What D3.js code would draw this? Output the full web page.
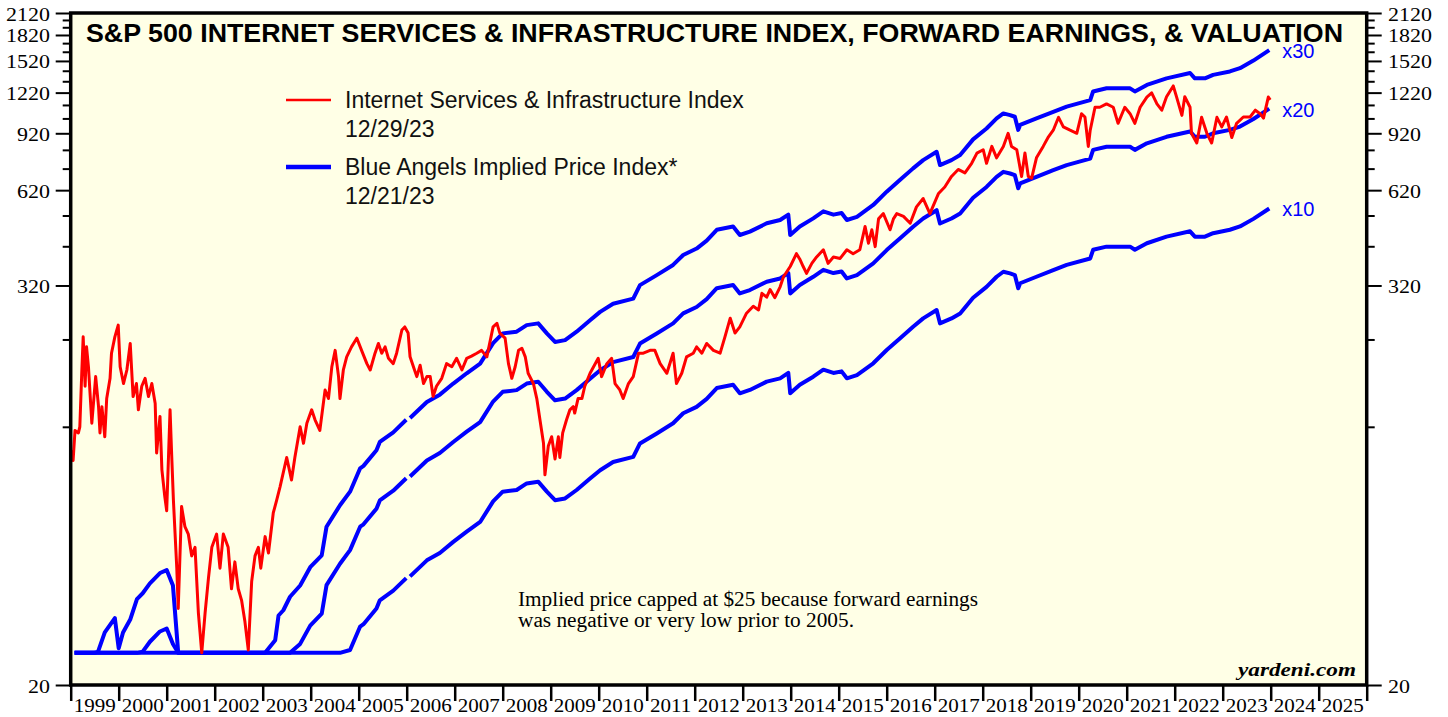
<!DOCTYPE html>
<html>
<head>
<meta charset="utf-8">
<script src="https://cdn.jsdelivr.net/npm/d3@7"></script>
<style>
  body { margin: 0; background: #fff; }
  svg { display: block; }
</style>
</head>
<body>
<script>
// ------------------------------------------------------------
// S&P 500 Internet Services & Infrastructure: index vs. implied prices
// (decimal years)
// ------------------------------------------------------------

// Price index, weekly-ish readings
var indexSeries = [
  [1999.02,102],[1999.05,95],[1999.09,117],[1999.16,115],[1999.19,120],[1999.23,174],[1999.26,224],
  [1999.30,159],[1999.33,209],[1999.37,182],[1999.44,123],[1999.52,170],[1999.58,138],[1999.61,115],
  [1999.65,138],[1999.71,112],[1999.75,146],[1999.82,168],[1999.85,200],[1999.92,224],[1999.99,243],
  [2000.03,182],[2000.10,162],[2000.17,178],[2000.24,214],[2000.27,178],[2000.30,148],[2000.37,162],
  [2000.41,135],[2000.48,159],[2000.55,168],[2000.62,148],[2000.69,162],[2000.76,141],[2000.79,100],
  [2000.86,129],[2000.90,89],[2000.96,74],[2001.00,67],[2001.07,135],[2001.10,102],[2001.14,72],
  [2001.21,45],[2001.24,34],[2001.31,69],[2001.38,60],[2001.45,57],[2001.52,49],[2001.59,52],
  [2001.66,33],[2001.73,25],[2001.80,33],[2001.87,42],[2001.94,52],[2002.04,57],[2002.11,45],
  [2002.18,57],[2002.28,52],[2002.35,39],[2002.42,47],[2002.49,39],[2002.56,36],[2002.63,31],
  [2002.70,25.5],[2002.77,41],[2002.84,49],[2002.91,52],[2002.96,45],[2003.05,56],[2003.12,50],
  [2003.22,66],[2003.29,72],[2003.36,79],[2003.50,97],[2003.60,83],[2003.67,97],[2003.78,120],
  [2003.85,107],[2003.92,123],[2004.02,135],[2004.09,126],[2004.19,117],[2004.30,155],[2004.37,146],
  [2004.44,182],[2004.51,204],[2004.58,170],[2004.61,146],[2004.68,178],[2004.75,195],[2004.85,209],
  [2004.96,222],[2005.06,204],[2005.17,186],[2005.24,178],[2005.34,200],[2005.41,214],[2005.48,200],
  [2005.55,209],[2005.62,193],[2005.72,186],[2005.79,200],[2005.90,235],[2005.96,240],[2006.03,230],
  [2006.07,195],[2006.14,182],[2006.21,170],[2006.28,184],[2006.35,162],[2006.42,170],[2006.49,170],
  [2006.55,148],[2006.62,159],[2006.73,168],[2006.83,186],[2006.94,182],[2007.04,193],[2007.15,178],
  [2007.25,193],[2007.35,196],[2007.46,200],[2007.56,204],[2007.67,195],[2007.80,240],[2007.88,246],
  [2007.94,230],[2008.05,222],[2008.12,186],[2008.19,168],[2008.26,182],[2008.33,204],[2008.40,207],
  [2008.47,195],[2008.53,174],[2008.64,162],[2008.71,146],[2008.78,125],[2008.85,107],[2008.88,86],
  [2008.95,105],[2009.02,112],[2009.09,96],[2009.16,112],[2009.19,97],[2009.25,115],[2009.33,126],
  [2009.40,135],[2009.47,138],[2009.50,132],[2009.57,146],[2009.65,146],[2009.71,159],[2009.82,174],
  [2009.99,193],[2010.06,170],[2010.17,186],[2010.27,193],[2010.34,162],[2010.44,155],[2010.51,146],
  [2010.62,162],[2010.72,170],[2010.83,200],[2010.93,200],[2011.07,204],[2011.17,204],[2011.28,186],
  [2011.42,174],[2011.55,200],[2011.62,162],[2011.73,174],[2011.83,195],[2011.97,200],[2012.04,209],
  [2012.15,200],[2012.25,214],[2012.39,204],[2012.53,200],[2012.63,224],[2012.74,255],[2012.84,230],
  [2012.94,240],[2013.08,264],[2013.22,277],[2013.33,270],[2013.40,303],[2013.50,295],[2013.57,311],
  [2013.67,294],[2013.78,317],[2013.85,340],[2013.99,365],[2014.12,399],[2014.19,384],[2014.26,365],
  [2014.33,348],[2014.44,373],[2014.54,390],[2014.68,410],[2014.78,373],[2014.89,390],[2015.03,386],
  [2015.17,410],[2015.30,399],[2015.44,410],[2015.55,482],[2015.62,429],[2015.69,471],[2015.76,419],
  [2015.83,508],[2015.93,527],[2016.07,471],[2016.14,508],[2016.21,527],[2016.35,517],[2016.49,493],
  [2016.62,552],[2016.76,585],[2016.90,527],[2017.08,606],[2017.21,634],[2017.35,682],[2017.49,716],
  [2017.63,699],[2017.77,747],[2017.88,802],[2018.01,821],[2018.08,747],[2018.19,840],[2018.29,776],
  [2018.43,840],[2018.53,920],[2018.60,840],[2018.71,821],[2018.81,682],[2018.88,802],[2018.95,682],
  [2019.02,674],[2019.12,776],[2019.26,840],[2019.37,898],[2019.47,940],[2019.58,1028],[2019.68,962],
  [2019.82,940],[2019.96,920],[2020.06,1054],[2020.13,1030],[2020.20,840],[2020.24,940],[2020.34,1102],
  [2020.44,1102],[2020.58,1128],[2020.72,1102],[2020.82,986],[2020.96,1102],[2021.07,1054],[2021.17,986],
  [2021.28,1102],[2021.42,1183],[2021.52,1218],[2021.63,1128],[2021.73,1080],[2021.83,1186],[2021.97,1278],
  [2022.04,1183],[2022.15,1042],[2022.21,1186],[2022.32,1102],[2022.35,920],[2022.46,860],[2022.56,1028],
  [2022.67,920],[2022.77,860],[2022.88,1028],[2022.98,962],[2023.08,1030],[2023.19,893],[2023.29,986],
  [2023.43,1030],[2023.57,1030],[2023.68,1080],[2023.78,1054],[2023.85,1022],[2023.95,1183],[2023.99,1160]
];

// Forward earnings per share (null = gap in the source series)
var fwdEarnings = [
  [1999.08,0.60],[1999.50,0.80],[1999.57,0.84],[1999.71,0.96],[1999.92,1.06],[2000.00,0.86],
  [2000.09,0.96],[2000.24,1.05],[2000.38,1.21],[2000.50,1.26],[2000.65,1.35],[2000.86,1.45],
  [2001.00,1.48],[2001.13,1.33],[2001.24,0.80],[2002.00,0.75],[2003.05,0.83],[2003.26,0.91],
  [2003.33,1.08],[2003.43,1.12],[2003.57,1.23],[2003.78,1.33],[2003.99,1.51],[2004.23,1.64],
  [2004.33,2.00],[2004.61,2.32],[2004.82,2.55],[2005.03,3.00],[2005.10,3.05],[2005.37,3.40],
  [2005.44,3.60],[2005.72,3.85],[2005.99,4.20],[2006.03,null],[2006.07,4.25],[2006.42,4.75],
  [2006.69,5.00],[2006.97,5.40],[2007.25,5.80],[2007.53,6.20],[2007.80,7.15],[2008.00,7.65],
  [2008.29,7.74],[2008.50,8.10],[2008.74,8.20],[2008.92,7.65],[2009.09,7.21],[2009.30,7.30],
  [2009.54,7.74],[2009.82,8.38],[2010.03,8.88],[2010.30,9.40],[2010.72,9.74],[2010.86,10.69],
  [2011.21,11.46],[2011.55,12.30],[2011.76,13.18],[2012.04,13.78],[2012.25,14.56],[2012.46,15.70],
  [2012.80,16.06],[2012.94,15.14],[2013.15,15.50],[2013.50,16.42],[2013.78,16.80],[2013.95,17.44],
  [2013.99,15.14],[2014.19,16.06],[2014.47,16.99],[2014.68,17.84],[2014.89,17.44],[2015.06,17.63],
  [2015.17,16.80],[2015.38,17.18],[2015.72,18.65],[2016.00,20.45],[2016.28,22.20],[2016.55,24.04],
  [2016.76,25.46],[2017.04,26.98],[2017.11,24.60],[2017.35,25.46],[2017.53,26.36],[2017.80,29.40],
  [2018.08,31.70],[2018.29,34.00],[2018.43,35.20],[2018.57,34.80],[2018.67,34.40],[2018.74,31.40],
  [2018.78,32.50],[2019.12,34.00],[2019.47,35.60],[2019.75,36.90],[2020.24,38.60],[2020.30,41.00],
  [2020.58,41.90],[2021.07,41.90],[2021.17,41.00],[2021.42,42.90],[2021.83,44.90],[2022.32,46.60],
  [2022.42,44.90],[2022.63,44.90],[2022.80,46.00],[2023.15,47.10],[2023.36,48.20],[2023.64,50.80],
  [2023.97,54.60]
];

var multiples = [10, 20, 30];
var priceCap = 25;   // implied price floor before 2005

var yMajorTicks = [20, 320, 620, 920, 1220, 1520, 1820, 2120];
var yMinorTicks = [120, 220, 420, 520, 720, 820, 1020, 1120, 1320, 1420, 1620, 1720, 1920, 2020];
var yearLabels = [1999,2000,2001,2002,2003,2004,2005,2006,2007,2008,2009,2010,2011,2012,2013,
                  2014,2015,2016,2017,2018,2019,2020,2021,2022,2023,2024,2025];

var titleText = "S&P 500 INTERNET SERVICES & INFRASTRUCTURE INDEX, FORWARD EARNINGS, & VALUATION";
var legendItems = [
  { name: "Internet Services & Infrastructure Index", date: "12/29/23", color: "#ff0000", width: 2.5 },
  { name: "Blue Angels Implied Price Index*", date: "12/21/23", color: "#0000ff", width: 4.5 }
];
var noteLines = ["Implied price capped at $25 because forward earnings",
                 "was negative or very low prior to 2005."];

// ------------------------------------------------------------
var W = 1448, H = 717;
var xLeft = 70.7, xRight = 1366.7, yTop = 13, yBottom = 685;
var serif = "'Liberation Serif','Times New Roman',serif";
var sans = "'Liberation Sans',Arial,sans-serif";

var svg = d3.select("body").append("svg")
    .attr("width", W)
    .attr("height", H);

var x = d3.scaleLinear().domain([1999, 2026]).range([xLeft, xRight]);
var y = d3.scaleLog().domain([20, 2120]).range([yBottom, yTop]);

// plot background
svg.append("rect")
    .attr("x", xLeft).attr("y", yTop)
    .attr("width", xRight - xLeft).attr("height", yBottom - yTop)
    .attr("fill", "#ffffe6");

// y axis ticks, both sides
function tickAxis(axis, size, vals) {
    return axis.tickValues(vals).tickSize(size).tickFormat("");
}
[[d3.axisLeft, xLeft], [d3.axisRight, xRight]].forEach(function(s) {
    var gMaj = svg.append("g").attr("transform", "translate(" + s[1] + ",0)")
        .call(tickAxis(s[0](y), 15, yMajorTicks));
    var gMin = svg.append("g").attr("transform", "translate(" + s[1] + ",0)")
        .call(tickAxis(s[0](y), 8, yMinorTicks));
    [gMaj, gMin].forEach(function(g) {
        g.select(".domain").remove();
        g.selectAll("line").attr("stroke", "#000").attr("stroke-width", 2);
    });
});

// y labels (serif, a bit stretched like the source)
yMajorTicks.forEach(function(v) {
    svg.append("text")
        .attr("transform", "translate(50," + (y(v) + 7.5) + ") scale(1.22,1)")
        .attr("text-anchor", "end")
        .attr("font-family", serif).attr("font-size", 18)
        .text(v);
    svg.append("text")
        .attr("transform", "translate(1388," + (y(v) + 7.5) + ") scale(1.22,1)")
        .attr("text-anchor", "start")
        .attr("font-family", serif).attr("font-size", 18)
        .text(v);
});

// x axis: ticks at year boundaries, labels centred in each year
var gx = svg.append("g").attr("transform", "translate(0," + yBottom + ")")
    .call(d3.axisBottom(x).tickValues(yearLabels.concat([2026])).tickSize(16).tickFormat(""));
gx.select(".domain").remove();
gx.selectAll("line").attr("stroke", "#000").attr("stroke-width", 2.5);

yearLabels.forEach(function(yr) {
    svg.append("text")
        .attr("transform", "translate(" + x(yr + 0.5) + ",712) scale(1.17,1)")
        .attr("text-anchor", "middle")
        .attr("font-family", serif).attr("font-size", 18)
        .text(yr);
});

// implied price lines
multiples.forEach(function(k) {
    var line = d3.line()
        .defined(function(d) { return d[1] !== null; })
        .x(function(d) { return x(d[0]); })
        .y(function(d) { return y(Math.max(priceCap, k * d[1])); });
    svg.append("path")
        .datum(fwdEarnings)
        .attr("d", line)
        .attr("fill", "none")
        .attr("stroke", "#0000ff")
        .attr("stroke-width", 4)
        .attr("stroke-linejoin", "round");

    var last = fwdEarnings[fwdEarnings.length - 1];
    svg.append("text")
        .attr("x", x(last[0]) + 13)
        .attr("y", y(k * last[1]) + 8)
        .attr("font-family", sans).attr("font-size", 20)
        .attr("fill", "#0000ff")
        .text("x" + k);
});

// index line
svg.append("path")
    .datum(indexSeries)
    .attr("d", d3.line().x(function(d) { return x(d[0]); }).y(function(d) { return y(d[1]); }))
    .attr("fill", "none")
    .attr("stroke", "#ff0000")
    .attr("stroke-width", 3)
    .attr("stroke-linejoin", "round");

// frame
svg.append("rect")
    .attr("x", xLeft).attr("y", yTop)
    .attr("width", xRight - xLeft).attr("height", yBottom - yTop)
    .attr("fill", "none")
    .attr("stroke", "#000")
    .attr("stroke-width", 3.5);

// title
svg.append("text")
    .attr("x", 86).attr("y", 42)
    .attr("font-family", sans).attr("font-weight", "bold").attr("font-size", 26)
    .attr("textLength", 1257).attr("lengthAdjust", "spacingAndGlyphs")
    .text(titleText);

// legend
legendItems.forEach(function(item, i) {
    var ly = 100 + i * 67;
    svg.append("line")
        .attr("x1", 286).attr("x2", 331)
        .attr("y1", ly).attr("y2", ly)
        .attr("stroke", item.color).attr("stroke-width", item.width);
    svg.append("text")
        .attr("x", 345).attr("y", ly + 7.5)
        .attr("font-family", sans).attr("font-size", 23).attr("fill", "#111")
        .text(item.name);
    svg.append("text")
        .attr("x", 345).attr("y", ly + 36.5)
        .attr("font-family", sans).attr("font-size", 23).attr("fill", "#111")
        .text(item.date);
});

// note
noteLines.forEach(function(t, i) {
    svg.append("text")
        .attr("x", 518).attr("y", 606 + i * 21)
        .attr("font-family", serif).attr("font-size", 20)
        .attr("textLength", i === 0 ? 460 : 336).attr("lengthAdjust", "spacingAndGlyphs")
        .text(t);
});

// source tag
svg.append("text")
    .attr("x", 1356).attr("y", 676)
    .attr("text-anchor", "end")
    .attr("font-family", serif).attr("font-weight", "bold").attr("font-style", "italic")
    .attr("font-size", 19)
    .attr("textLength", 118).attr("lengthAdjust", "spacingAndGlyphs")
    .text("yardeni.com");
</script>
</body>
</html>
